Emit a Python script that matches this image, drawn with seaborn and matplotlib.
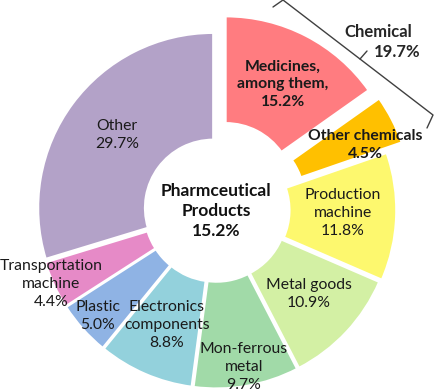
import matplotlib
matplotlib.use("Agg")
import matplotlib.pyplot as plt
import seaborn as sns

# data
categories = ["Medicines", "Other chemicals", "Production machine", "Metal goods",
              "Mon-ferrous metal", "Electronics components", "Plastic",
              "Transportation machine", "Other"]
shares = [15.2, 4.5, 11.8, 10.9, 9.7, 8.8, 5.0, 4.4, 29.7]
labels = ["Medicines,\namong them,\n15.2%", "Other chemicals\n4.5%",
          "Production\nmachine\n11.8%", "Metal goods\n10.9%",
          "Mon-ferrous\nmetal\n9.7%", "Electronics\ncomponents\n8.8%",
          "Plastic\n5.0%", "Transportation\nmachine\n4.4%", "Other\n29.7%"]
bold_labels = ["Medicines", "Other chemicals"]
colors = ["#FF7C80", "#FFC000", "#FDF86E", "#D3F0A4", "#A1DAA8",
          "#93D1DC", "#8FB3E4", "#E68AC7", "#B3A2C8"]
explode = [0.12, 0.13, 0.03, 0.02, 0.02, 0.02, 0.02, 0.02, 0.02]
center_text = "Pharmceutical\nProducts\n15.2%"
group_label = "Chemical"
group_share = "19.7%"

# label anchor points in pixels of the 434x392 image
label_px = [(283, 84), (365, 145), (343, 213), (309, 294), (244, 367),
            (167, 325), (98, 316), (51, 284), (117, 135)]

sns.set_theme(style="white")
plt.rcParams["font.family"] = ["Lato", "DejaVu Sans"]

W, H = 434, 392
CX, CY, R = 216, 210, 175


def to_data(px, py):
    return (px - CX) / R, (CY - py) / R


fig = plt.figure(figsize=(W / 100, H / 100), dpi=100)
ax = fig.add_axes([0, 0, 1, 1])
ax.pie(shares, colors=colors, explode=explode, startangle=90, counterclock=False,
       radius=1.0, wedgeprops=dict(width=0.61, edgecolor="white", linewidth=1.5))
ax.set_xlim(-CX / R, (W - CX) / R)
ax.set_ylim(-(H - CY) / R, CY / R)
ax.set_aspect("auto")
ax.axis("off")

for cat, lab, (px, py) in zip(categories, labels, label_px):
    x, y = to_data(px, py)
    ax.text(x, y, lab, ha="center", va="center", fontsize=11.3, linespacing=1.32,
            color="#1a1a1a", fontweight="bold" if cat in bold_labels else "normal")

x, y = to_data(216, 211)
ax.text(x, y, center_text, ha="center", va="center", fontsize=12.5,
        fontweight="bold", linespacing=1.3, color="#111111")

# group bracket for the chemical slices
x, y = to_data(378, 32)
ax.text(x, y, group_label, ha="center", va="center", fontsize=12, fontweight="bold")
x, y = to_data(397, 52)
ax.text(x, y, group_share, ha="center", va="center", fontsize=12, fontweight="bold")
b1 = [to_data(*p) for p in [(273, 7), (283, 0), (360, 59), (367, 51)]]
b2 = [to_data(*p) for p in [(360, 59), (433, 115), (427, 128)]]
for seg in (b1, b2):
    ax.plot([p[0] for p in seg], [p[1] for p in seg], color="#404040", lw=1)

fig.savefig("out.png", dpi=100)
